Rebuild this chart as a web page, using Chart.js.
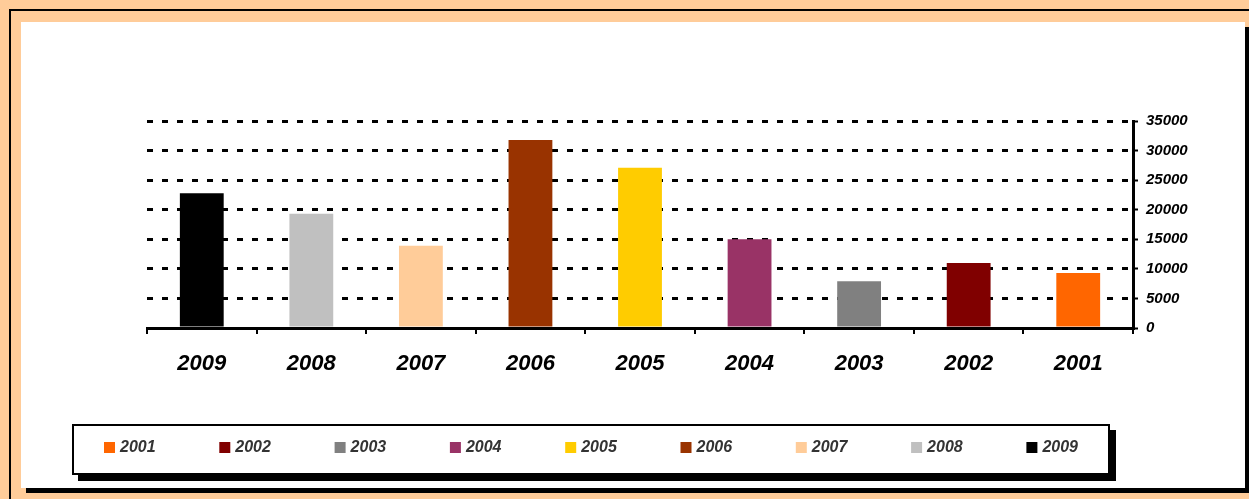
<!DOCTYPE html>
<html>
<head>
<meta charset="utf-8">
<title>2001 - 2009</title>
<script src="https://cdn.jsdelivr.net/npm/chart.js@4/dist/chart.umd.min.js"></script>
<style>
  html, body { margin: 0; padding: 0; background: #FFCC99; }
  canvas { display: block; }
</style>
</head>
<body>
<canvas id="chart" width="1249" height="499"></canvas>
<script>
const years = ['2009', '2008', '2007', '2006', '2005', '2004', '2003', '2002', '2001'];
const amounts = [22800, 19300, 13900, 31800, 27100, 15000, 7900, 11000, 9300];
const barColors = ['#000000', '#C0C0C0', '#FFCC99', '#993300', '#FFCC00', '#993366', '#808080', '#800000', '#FF6600'];
const yMax = 35000;
const yStep = 5000;

const FONT = 'Arial, "Liberation Sans", sans-serif';

// peach page, white panel with a hard black shadow
const framePlugin = {
  id: 'frame',
  beforeDraw(chart) {
    const ctx = chart.ctx;
    const w = chart.width;
    const h = chart.height;
    ctx.save();
    ctx.fillStyle = '#FFCC99';
    ctx.fillRect(0, 0, w, h);
    ctx.fillStyle = '#000';
    ctx.fillRect(9, 9, w - 9, 2);
    ctx.fillRect(9, 9, 2, h - 9);
    ctx.fillRect(26, 27, w - 26, 466);
    ctx.fillStyle = '#fff';
    ctx.fillRect(21, 22, 1224, 466);
    ctx.restore();
  }
};

// boxed legend under the axis, oldest year first
const legendBoxPlugin = {
  id: 'legendBox',
  afterDraw(chart) {
    const ctx = chart.ctx;
    const labels = chart.data.labels.slice().reverse();
    const colors = chart.data.datasets[0].backgroundColor.slice().reverse();
    const box = { x: 72, y: 424, w: 1038, h: 51 };
    ctx.save();
    ctx.fillStyle = '#000';
    ctx.fillRect(box.x + 6, box.y + 6, box.w, box.h);
    ctx.fillStyle = '#fff';
    ctx.fillRect(box.x, box.y, box.w, box.h);
    ctx.strokeStyle = '#000';
    ctx.lineWidth = 2;
    ctx.strokeRect(box.x + 1, box.y + 1, box.w - 2, box.h - 2);

    ctx.font = 'italic bold 16px ' + FONT;
    ctx.textBaseline = 'middle';
    ctx.textAlign = 'left';
    labels.forEach((label, i) => {
      const x = 104 + i * 115.3;
      ctx.fillStyle = colors[i];
      ctx.fillRect(x, 442, 11, 11);
      ctx.fillStyle = '#333';
      ctx.fillText(label, x + 16, 448);
    });
    ctx.restore();
  }
};

const ctx = document.getElementById('chart').getContext('2d');

new Chart(ctx, {
  type: 'bar',
  data: {
    labels: years,
    datasets: [
      {
        label: 'amount',
        data: amounts,
        backgroundColor: barColors,
        borderWidth: 0,
        categoryPercentage: 1,
        barPercentage: 0.4,
      }
    ],
  },
  options: {
    responsive: false,
    devicePixelRatio: 1,
    animation: false,
    layout: {
      padding: { left: 147, top: 121, right: 36, bottom: 111 }
    },
    plugins: {
      legend: { display: false },
      tooltip: { enabled: false }
    },
    scales: {
      x: {
        position: 'bottom',
        afterFit: (scale) => { scale.height = 60; },
        grid: {
          display: true,
          offset: true,
          drawOnChartArea: false,
          drawTicks: true,
          tickLength: 6,
          lineWidth: 2,
          color: '#000'
        },
        border: { display: true, color: '#000', width: 3, z: 1 },
        ticks: {
          color: '#000',
          padding: 17,
          font: { family: FONT, size: 22, weight: 'bold', style: 'italic' }
        }
      },
      y: {
        position: 'right',
        min: 0,
        max: yMax,
        afterFit: (scale) => { scale.width = 80; },
        grid: {
          lineWidth: 3,
          color: (c) => (c.tick && c.tick.value === 0 ? 'rgba(0,0,0,0)' : '#000'),
          tickColor: '#000',
          tickWidth: 2,
          tickLength: 5,
          tickBorderDash: []
        },
        border: { display: true, color: '#000', width: 3, dash: [6, 9], z: 1 },
        ticks: {
          stepSize: yStep,
          color: '#000',
          padding: 8,
          callback: (value) => String(value),
          font: { family: FONT, size: 15, weight: 'bold', style: 'italic' }
        }
      }
    }
  },
  plugins: [framePlugin, legendBoxPlugin]
});
</script>
</body>
</html>
